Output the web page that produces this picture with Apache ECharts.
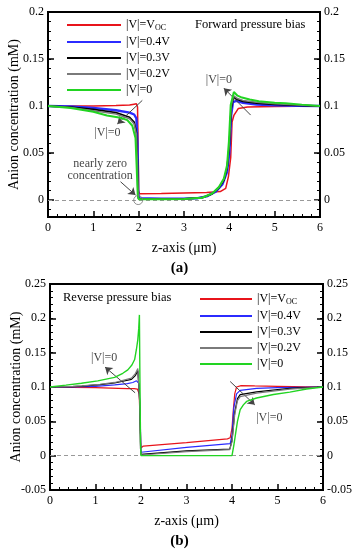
<!DOCTYPE html>
<html><head><meta charset="utf-8">
<script src="https://cdn.jsdelivr.net/npm/echarts@6/dist/echarts.min.js"></script>
<style>
html,body{margin:0;padding:0;background:#fff;}
#a{position:absolute;left:0;top:0;width:359px;height:275px;}
#b{position:absolute;left:0;top:275px;width:359px;height:275px;}
</style></head>
<body>
<div id="a"></div><div id="b"></div>
<script>
// ---------- DATA ----------
const seriesNames = ['Voc', '0.4V', '0.3V', '0.2V', '0'];
const xTicks = [0, 1, 2, 3, 4, 5, 6];
const yTicksA = [0, 0.05, 0.1, 0.15, 0.2];
const yTicksB = [-0.05, 0, 0.05, 0.1, 0.15, 0.2, 0.25];

// (a) Forward pressure bias
const aRedZ   = [0, 1, 1.5, 1.8, 1.9, 1.95, 1.975, 1.99, 2.0, 2.02, 2.5, 3.0, 3.5, 3.8, 3.92, 3.98, 4.03, 4.06, 4.1, 4.2, 4.4, 5, 6];
const aRedC   = [0.1, 0.1, 0.1005, 0.101, 0.102, 0.1025, 0.099, 0.05, 0.01, 0.0068, 0.007, 0.0075, 0.008, 0.009, 0.0125, 0.025, 0.045, 0.083, 0.09, 0.0975, 0.099, 0.0995, 0.1];
const aBlueZ  = [0, 0.5, 1, 1.5, 1.8, 1.9, 1.95, 1.975, 1.99, 2.0, 2.5, 3.0, 3.3, 3.5, 3.7, 3.85, 3.95, 4.0, 4.04, 4.08, 4.15, 4.3, 4.6, 5, 5.5, 6];
const aBlueC  = [0.1, 0.0995, 0.098, 0.0955, 0.093, 0.091, 0.087, 0.06, 0.01, 0.002, 0.0015, 0.0015, 0.002, 0.004, 0.009, 0.017, 0.03, 0.05, 0.09, 0.104, 0.1055, 0.1035, 0.1015, 0.1008, 0.1003, 0.1];
const aBlackZ = [0, 0.5, 1, 1.5, 1.8, 1.9, 1.95, 1.975, 1.99, 2.0, 2.5, 3.0, 3.4, 3.62, 3.77, 3.88, 3.95, 4.0, 4.04, 4.09, 4.18, 4.3, 4.6, 5, 5.5, 6];
const aBlackC = [0.1, 0.099, 0.0965, 0.093, 0.088, 0.083, 0.072, 0.04, 0.006, 0.0015, 0.0012, 0.0013, 0.0025, 0.0065, 0.013, 0.021, 0.034, 0.058, 0.097, 0.109, 0.107, 0.105, 0.103, 0.1018, 0.1008, 0.1];
const aGrayZ  = [0, 0.5, 1, 1.5, 1.8, 1.9, 1.95, 1.975, 1.99, 2.0, 2.5, 3.0, 3.4, 3.62, 3.77, 3.88, 3.95, 4.0, 4.04, 4.09, 4.18, 4.3, 4.6, 5, 5.5, 6];
const aGrayC  = [0.1, 0.0985, 0.095, 0.0915, 0.0865, 0.081, 0.07, 0.035, 0.005, 0.0012, 0.001, 0.0012, 0.0025, 0.0068, 0.0135, 0.022, 0.035, 0.06, 0.099, 0.111, 0.108, 0.106, 0.104, 0.1025, 0.101, 0.1];
const aGreenZ = [0, 0.5, 1, 1.3, 1.6, 1.75, 1.86, 1.93, 1.96, 1.98, 2.0, 2.5, 3.0, 3.4, 3.62, 3.77, 3.88, 3.95, 3.99, 4.03, 4.1, 4.18, 4.28, 4.45, 4.65, 5.0, 5.24, 5.6, 6];
const aGreenC = [0.1, 0.098, 0.094, 0.09, 0.0875, 0.085, 0.079, 0.066, 0.03, 0.005, 0.001, 0.001, 0.0012, 0.0025, 0.007, 0.014, 0.023, 0.037, 0.062, 0.101, 0.115, 0.111, 0.109, 0.107, 0.105, 0.1035, 0.103, 0.1015, 0.1];

// (b) Reverse pressure bias
const bRedZ   = [0, 0.5, 1, 1.5, 1.7, 1.85, 1.92, 1.96, 1.98, 2.0, 2.02, 2.05, 3.0, 3.9, 3.96, 4.0, 4.03, 4.06, 4.1, 4.2, 4.5, 5, 6];
const bRedC   = [0.1, 0.0995, 0.099, 0.098, 0.0975, 0.0975, 0.097, 0.09, 0.05, 0.011, 0.0135, 0.014, 0.019, 0.0245, 0.026, 0.04, 0.067, 0.09, 0.1, 0.102, 0.1015, 0.101, 0.1];
const bBlueZ  = [0, 0.5, 1, 1.42, 1.7, 1.82, 1.9, 1.94, 1.96, 1.98, 2.0, 2.03, 3.0, 3.96, 4.0, 4.04, 4.1, 4.18, 4.54, 5, 6];
const bBlueC  = [0.1, 0.1, 0.101, 0.103, 0.105, 0.1066, 0.109, 0.11, 0.105, 0.06, 0.005, 0.0075, 0.012, 0.0175, 0.03, 0.07, 0.09, 0.095, 0.098, 0.099, 0.1];
const bBlackZ = [0, 0.5, 0.7, 1.1, 1.42, 1.79, 1.88, 1.93, 1.95, 1.97, 1.99, 2.0, 2.03, 3.0, 3.95, 4.0, 4.06, 4.12, 4.18, 4.54, 4.9, 5.27, 5.6, 6];
const bBlackC = [0.1, 0.1006, 0.1013, 0.1035, 0.1058, 0.111, 0.117, 0.124, 0.122, 0.08, 0.01, 0.002, 0.004, 0.007, 0.0095, 0.022, 0.063, 0.083, 0.089, 0.093, 0.0955, 0.098, 0.099, 0.1];
const bGrayZ  = [0, 0.5, 0.7, 1.1, 1.42, 1.79, 1.88, 1.93, 1.95, 1.97, 1.99, 2.0, 2.03, 3.0, 3.95, 4.0, 4.06, 4.12, 4.18, 4.54, 4.9, 5.27, 5.6, 6];
const bGrayC  = [0.1, 0.1008, 0.1017, 0.104, 0.1066, 0.113, 0.12, 0.127, 0.125, 0.08, 0.01, 0.001, 0.003, 0.006, 0.0087, 0.02, 0.06, 0.08, 0.086, 0.091, 0.094, 0.097, 0.0985, 0.1];
const bGreenZ = [0, 0.35, 0.69, 1.05, 1.42, 1.6, 1.71, 1.8, 1.86, 1.9, 1.93, 1.95, 1.965, 1.975, 1.99, 2.0, 3.0, 4.0, 4.04, 4.07, 4.12, 4.18, 4.25, 4.32, 4.54, 4.91, 5.27, 5.64, 6];
const bGreenC = [0.1, 0.1027, 0.1055, 0.109, 0.114, 0.12, 0.125, 0.132, 0.14, 0.155, 0.169, 0.185, 0.205, 0.12, 0.02, 0, 0, 0, 0.015, 0.028, 0.05, 0.067, 0.074, 0.079, 0.084, 0.089, 0.0925, 0.097, 0.1];

// ---------- STYLE / BUILD ----------
const FONT = '"Liberation Serif", "Times New Roman", serif';
const colors = ['#e8141b', '#2b2bff', '#000000', '#7a7a7a', '#22d422'];
const pairs = (z, c) => z.map((v, i) => [v, c[i]]);
const lbl = {fontFamily: FONT, fontSize: 12, color: '#000'};
const fmt = v => String(+v.toFixed(3));

function legendCfg(left, top, itemWidth) {
  return {
    data: seriesNames, orient: 'vertical', left: left, top: top,
    itemWidth: itemWidth, itemHeight: 12, itemGap: 4,
    selectedMode: false,
    itemStyle: {opacity: 0, borderWidth: 0},
    textStyle: {fontFamily: FONT, fontSize: 12, color: '#000',
      rich: {s: {fontFamily: FONT, fontSize: 8, verticalAlign: 'bottom', padding: [6, 0, 0, 0], color: '#000'}}},
    formatter: n => n === 'Voc' ? '|V|=V{s|OC}' : '|V|=' + n
  };
}

function lineSeries(name, data, idx, width, extra) {
  return Object.assign({
    type: 'line', name: name, data: data, symbol: 'none', showSymbol: false,
    xAxisIndex: 0, yAxisIndex: 0, animation: false, z: 2 + idx,
    lineStyle: {color: colors[idx], width: width}, itemStyle: {color: colors[idx]}
  }, extra || {});
}

function arrow(from, to, headAtEnd) {
  return [
    {coord: from, symbol: headAtEnd ? 'none' : 'arrow'},
    {coord: to, symbol: headAtEnd ? 'arrow' : 'none'}
  ];
}

function xAxisCfg() {
  return [{
    type: 'value', min: 0, max: 6, interval: 1, position: 'bottom',
    axisLine: {show: false, onZero: false},
    axisTick: {show: true, inside: true, length: 6, lineStyle: {color: '#000', width: 1.5}},
    minorTick: {show: true, splitNumber: 5, length: 3, lineStyle: {color: '#000', width: 1}},
    axisLabel: Object.assign({margin: 5, formatter: fmt}, lbl),
    splitLine: {show: false}, minorSplitLine: {show: false},
    name: 'z-axis (μm)', nameLocation: 'middle', nameGap: 24, nameMoveOverlap: false,
    nameTextStyle: {fontFamily: FONT, fontSize: 14, color: '#000'}
  }];
}

function yPair(pos, min, max, majors, minors, withName) {
  const major = {
    type: 'value', min: min, max: max, position: pos,
    axisLine: {show: false, onZero: false},
    axisTick: {show: true, inside: true, length: 6, customValues: majors, lineStyle: {color: '#000', width: 1.5}},
    axisLabel: Object.assign({margin: 4, customValues: majors, formatter: fmt}, lbl),
    splitLine: {show: false}
  };
  if (withName) {
    major.name = 'Anion concentration (mM)';
    major.nameLocation = 'middle';
    major.nameGap = 27;
    major.nameMoveOverlap = false;
    major.nameTextStyle = {fontFamily: FONT, fontSize: 14, color: '#000'};
  }
  const minor = {
    type: 'value', min: min, max: max, position: pos,
    axisLine: {show: false, onZero: false},
    axisTick: {show: true, inside: true, length: 3, customValues: minors, lineStyle: {color: '#000', width: 1}},
    axisLabel: {show: false}, splitLine: {show: false}
  };
  return [major, minor];
}

function minorList(min, max, step) {
  const out = [];
  for (let v = Math.ceil(min / step - 1e-9); v * step <= max + 1e-9; v++) out.push(+(v * step).toFixed(4));
  return out;
}

function buildOption(cfg) {
  const yAxes = [].concat(
    yPair('left', cfg.ymin, cfg.ymax, cfg.yTicks, minorList(cfg.ymin, cfg.ymax, 0.01), true),
    yPair('right', cfg.ymin, cfg.ymax, cfg.yTicks, minorList(cfg.ymin, cfg.ymax, 0.01), false)
  );
  const series = [
    lineSeries(seriesNames[0], cfg.data[0], 0, cfg.widths[0], {
      markLine: {
        silent: true, animation: false, symbolSize: 7,
        label: {show: false},
        data: [
          [{coord: [0, 0], symbol: 'none', lineStyle: {color: '#999', type: [4, 3], width: 1}},
           {coord: [6, 0], symbol: 'none'}]
        ].concat(cfg.arrows.map(a => arrow(a[0], a[1], a[2]))),
        lineStyle: {color: '#444', width: 1, type: 'solid'}
      }
    }),
    lineSeries(seriesNames[1], cfg.data[1], 1, cfg.widths[1]),
    lineSeries(seriesNames[2], cfg.data[2], 2, cfg.widths[2]),
    lineSeries(seriesNames[3], cfg.data[3], 3, cfg.widths[3]),
    lineSeries(seriesNames[4], cfg.data[4], 4, cfg.widths[4]),
    {
      type: 'scatter', name: 'notes', data: cfg.notes, symbolSize: 0, z: 20,
      animation: false, silent: true,
      label: {show: true, position: 'inside', formatter: p => p.value[2],
        fontFamily: FONT, fontSize: 12, color: '#111', lineHeight: 12}
    }
  ];
  if (cfg.circle) {
    series.push({
      type: 'scatter', name: 'circle', data: [cfg.circle], symbol: 'circle', symbolSize: 9, z: 20,
      animation: false, silent: true,
      itemStyle: {color: 'rgba(0,0,0,0)', borderColor: '#777', borderWidth: 1}
    });
  }
  return {
    animation: false,
    backgroundColor: '#fff',
    grid: Object.assign({show: true, borderColor: '#000', borderWidth: 2, backgroundColor: 'transparent',
      containLabel: false, outerBoundsMode: 'none'}, cfg.grid),
    xAxis: xAxisCfg(),
    yAxis: yAxes,
    legend: legendCfg(cfg.legend[0], cfg.legend[1], cfg.legend[2]),
    title: {text: cfg.panel, left: 'center', top: cfg.panelTop,
      textStyle: {fontFamily: FONT, fontSize: 15, fontWeight: 'bold', color: '#000'}},
    graphic: [{type: 'text', left: cfg.biasPos[0], top: cfg.biasPos[1],
      style: {text: cfg.bias, font: '12.5px ' + FONT, fill: '#000'}}],
    series: series
  };
}

const chartA = echarts.init(document.getElementById('a'), null, {renderer: 'canvas'});
chartA.setOption(buildOption({
  grid: {left: 48, right: 39, top: 12, bottom: 58},
  ymin: -0.018, ymax: 0.2, yTicks: yTicksA,
  data: [pairs(aRedZ, aRedC), pairs(aBlueZ, aBlueC), pairs(aBlackZ, aBlackC), pairs(aGrayZ, aGrayC), pairs(aGreenZ, aGreenC)],
  widths: [1.5, 2.4, 1.7, 1.5, 2.0],
  legend: [61, 14, 54],
  panel: '(a)', panelTop: 256,
  bias: 'Forward pressure bias', biasPos: [195, 18],
  arrows: [[[2.08, 0.106], [1.53, 0.081], true], [[4.47, 0.0904], [3.88, 0.119], true], [[1.6, 0.0195], [1.93, 0.0053], true]],
  notes: [[1.31, 0.071, '|V|=0'], [3.77, 0.128, '|V|=0'], [1.15, 0.0325, 'nearly zero\nconcentration']],
  circle: [1.99, 0]
}));

const chartB = echarts.init(document.getElementById('b'), null, {renderer: 'canvas'});
chartB.setOption(buildOption({
  grid: {left: 50, right: 36, top: 9, bottom: 60},
  ymin: -0.05, ymax: 0.25, yTicks: yTicksB,
  data: [pairs(bRedZ, bRedC), pairs(bBlueZ, bBlueC), pairs(bBlackZ, bBlackC), pairs(bGrayZ, bGrayC), pairs(bGreenZ, bGreenC)],
  widths: [1.2, 1.2, 1.2, 1.2, 1.4],
  legend: [194, 13, 52],
  panel: '(b)', panelTop: 254,
  bias: 'Reverse pressure bias', biasPos: [63, 16],
  arrows: [[[1.87, 0.0916], [1.21, 0.129], true], [[3.96, 0.108], [4.5, 0.074], true]],
  notes: [[1.19, 0.142, '|V|=0'], [4.82, 0.055, '|V|=0']],
  circle: null
}));
</script>
</body></html>
